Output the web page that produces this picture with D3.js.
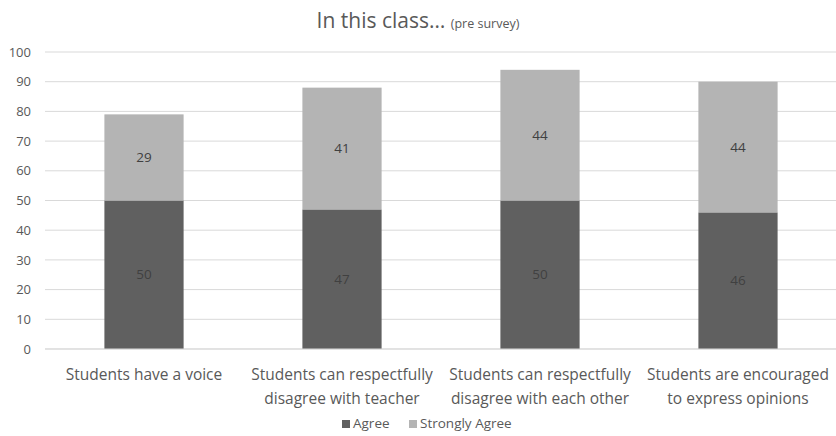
<!DOCTYPE html>
<html>
<head>
<meta charset="utf-8">
<script src="https://cdn.jsdelivr.net/npm/d3@7"></script>
<style>
  body { margin: 0; background: #fff; }
  svg { font-family: "Open Sans", sans-serif; }
</style>
</head>
<body>
<svg width="836" height="436"></svg>
<script>
// chart data
var categories = [
    ['Students have a voice'],
    ['Students can respectfully', 'disagree with teacher'],
    ['Students can respectfully', 'disagree with each other'],
    ['Students are encouraged', 'to express opinions']
];
var agree = [50, 47, 50, 46];
var stronglyAgree = [29, 41, 44, 44];
var seriesNames = ['Agree', 'Strongly Agree'];
var yTicks = [0, 10, 20, 30, 40, 50, 60, 70, 80, 90, 100];

var colors = ['#606060', '#b4b4b4'];

var svg = d3.select('svg');

var xScale = d3.scaleBand()
    .domain(d3.range(categories.length))
    .range([45, 837])
    .paddingInner(0.6)
    .paddingOuter(0.3);

var yScale = d3.scaleLinear().domain([0, 100]).range([349, 52]);

// gridlines
svg.append('g')
    .selectAll('line')
    .data(yTicks)
    .join('line')
    .attr('x1', 45)
    .attr('x2', 836)
    .attr('y1', d => yScale(d))
    .attr('y2', d => yScale(d))
    .attr('stroke', '#d9d9d9')
    .attr('stroke-width', 1);

// y axis labels
var yAxis = svg.append('g')
    .attr('transform', 'translate(31,0)')
    .call(d3.axisLeft(yScale).tickValues(yTicks).tickSize(0).tickPadding(0));
yAxis.select('.domain').remove();
yAxis.selectAll('text')
    .attr('fill', '#595959')
    .style('font-size', '13px')
    .style('font-family', '"Open Sans", sans-serif');

// stacked bars
var rows = agree.map((a, i) => ({ i: i, agree: a, stronglyAgree: stronglyAgree[i] }));
var stack = d3.stack().keys(['agree', 'stronglyAgree'])(rows);

var layers = svg.selectAll('.layer')
    .data(stack)
    .join('g')
    .attr('class', 'layer')
    .attr('fill', (d, k) => colors[k]);

layers.selectAll('rect')
    .data(d => d)
    .join('rect')
    .attr('x', d => xScale(d.data.i))
    .attr('width', xScale.bandwidth())
    .attr('y', d => yScale(d[1]))
    .attr('height', d => yScale(d[0]) - yScale(d[1]));

layers.selectAll('text')
    .data(d => d)
    .join('text')
    .attr('x', d => xScale(d.data.i) + xScale.bandwidth() / 2)
    .attr('y', d => (yScale(d[0]) + yScale(d[1])) / 2)
    .attr('dy', '0.35em')
    .attr('text-anchor', 'middle')
    .attr('fill', '#404040')
    .style('font-size', '13.5px')
    .text(d => d[1] - d[0]);

// bottom axis line
svg.append('line')
    .attr('x1', 45).attr('x2', 836)
    .attr('y1', yScale(0)).attr('y2', yScale(0))
    .attr('stroke', '#d9d9d9');

// category labels
var catG = svg.append('g')
    .selectAll('text')
    .data(categories)
    .join('text')
    .attr('text-anchor', 'middle')
    .attr('fill', '#595959')
    .style('font-size', '15.5px')
    .attr('transform', (d, i) => `translate(${xScale(i) + xScale.bandwidth() / 2}, 380)`);

catG.selectAll('tspan')
    .data(d => d)
    .join('tspan')
    .attr('x', 0)
    .attr('y', (d, j) => j * 24)
    .text(d => d);

// title
var title = svg.append('text')
    .attr('x', 418)
    .attr('y', 28)
    .attr('text-anchor', 'middle')
    .attr('fill', '#595959');
title.append('tspan')
    .style('font-size', '21px')
    .style('font-family', '"Liberation Sans Narrow", "Open Sans", sans-serif')
    .text('In this class\u2026 ');
title.append('tspan')
    .style('font-size', '12.5px')
    .style('font-family', '"Liberation Sans Narrow", "Open Sans", sans-serif')
    .text('(pre survey)');

// legend
var legendX = [342, 409];
var legend = svg.append('g')
    .selectAll('g')
    .data(seriesNames)
    .join('g')
    .attr('transform', (d, k) => `translate(${legendX[k]}, 428)`);

legend.append('rect')
    .attr('x', 0)
    .attr('y', -8)
    .attr('width', 8)
    .attr('height', 8)
    .attr('fill', (d, k) => colors[k]);

legend.append('text')
    .attr('x', 11)
    .attr('y', 0)
    .attr('fill', '#595959')
    .style('font-size', '13.5px')
    .text(d => d);
</script>
</body>
</html>
